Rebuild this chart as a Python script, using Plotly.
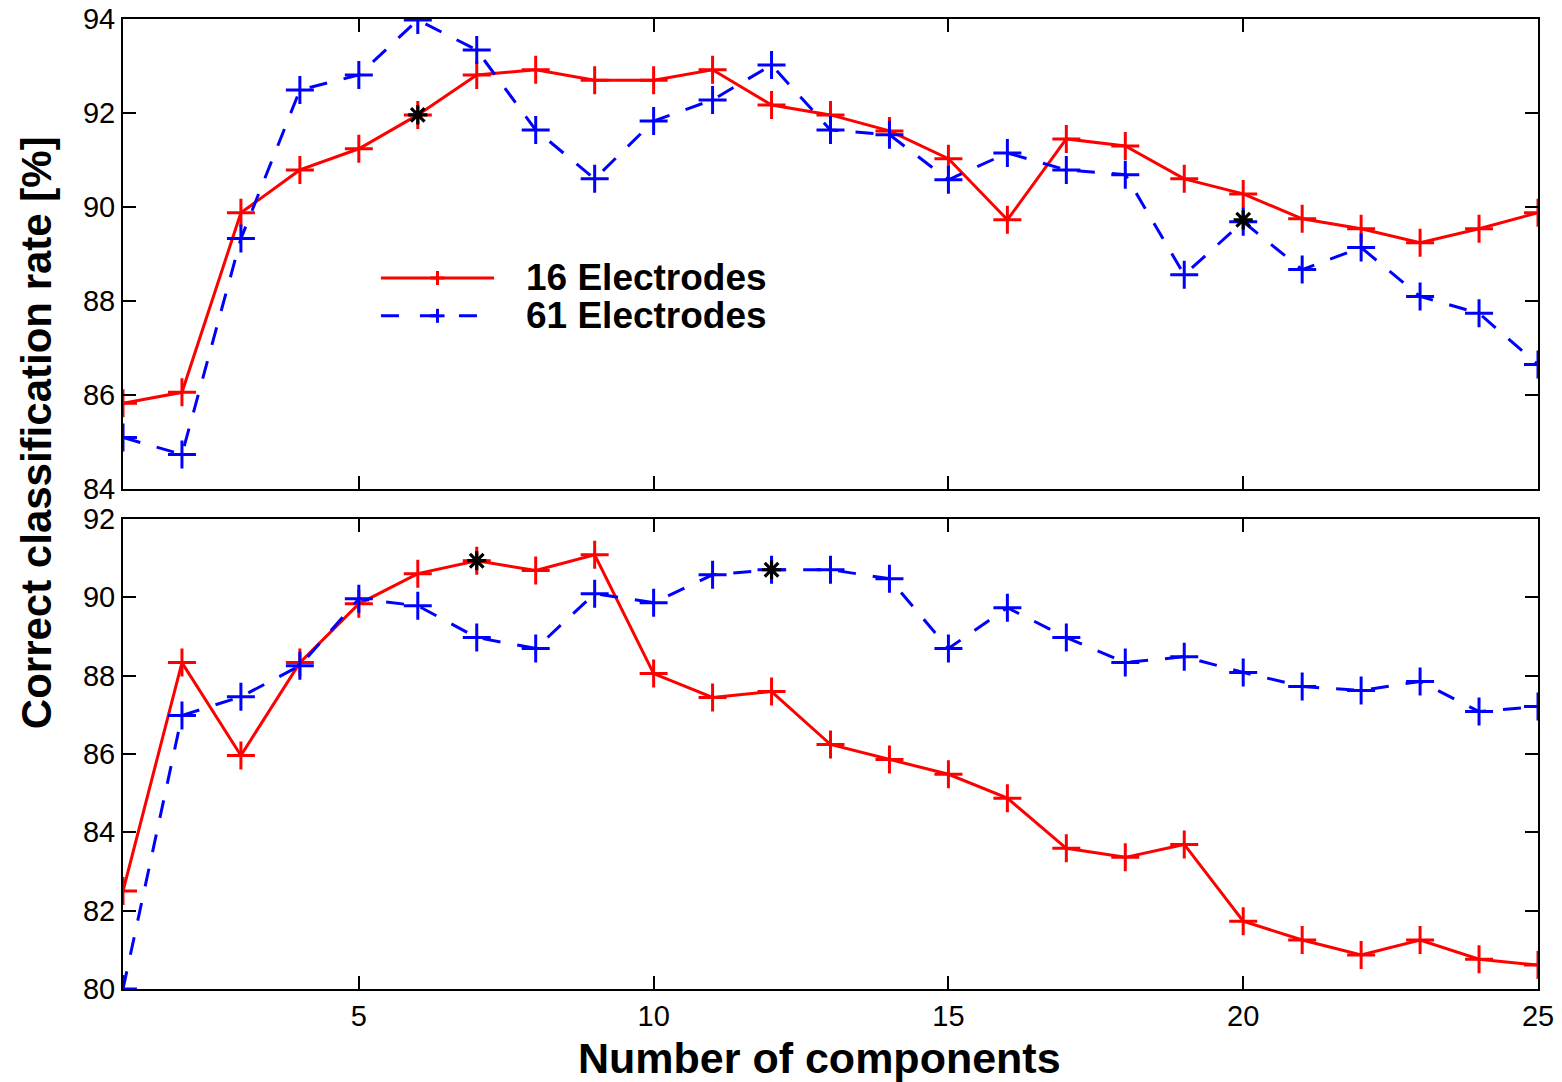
import plotly.graph_objects as go
from plotly.subplots import make_subplots

components = list(range(1, 26))

top_16 = [85.83, 86.06, 89.88, 90.79, 91.24, 91.96, 92.81, 92.92, 92.70, 92.70,
          92.92, 92.17, 91.96, 91.62, 91.03, 89.73, 91.45, 91.30, 90.60, 90.28,
          89.75, 89.54, 89.24, 89.54, 89.88]
top_61 = [85.10, 84.74, 89.33, 92.49, 92.81, 93.98, 93.34, 91.64, 90.60, 91.83,
          92.28, 93.02, 91.64, 91.54, 90.58, 91.15, 90.79, 90.69, 88.56, 89.69,
          88.67, 89.14, 88.10, 87.74, 86.65]
bot_16 = [82.50, 88.33, 85.96, 88.33, 89.83, 90.60, 90.93, 90.68, 91.08, 88.05,
          87.44, 87.59, 86.24, 85.86, 85.48, 84.87, 83.59, 83.36, 83.69, 81.73,
          81.25, 80.87, 81.25, 80.76, 80.61]
bot_61 = [80.00, 86.98, 87.46, 88.25, 89.96, 89.78, 88.97, 88.69, 90.09, 89.86,
          90.57, 90.70, 90.70, 90.47, 88.69, 89.73, 88.97, 88.33, 88.48, 88.08,
          87.72, 87.62, 87.85, 87.08, 87.21]

top_star_x = [6, 20]
top_star_y = [91.96, 89.73]
bot_star_x = [7, 12]
bot_star_y = [90.93, 90.70]

series_names = ["16 Electrodes", "61 Electrodes"]
x_ticks = [5, 10, 15, 20, 25]
top_y_ticks = [84, 86, 88, 90, 92, 94]
bot_y_ticks = [80, 82, 84, 86, 88, 90, 92]

RED = "#FF0000"
BLUE = "#0000FF"
FONT = "Liberation Sans, Arial, Helvetica, sans-serif"
LW = 3

fig = make_subplots(rows=2, cols=1, vertical_spacing=0.0305)


def add_series(row, y16, y61, sx, sy):
    fig.add_trace(go.Scatter(
        x=components, y=y16, mode="lines+markers", name=series_names[0],
        line=dict(color=RED, width=LW),
        marker=dict(symbol="cross-thin-open", size=20, color=RED, line=dict(color=RED, width=LW)),
        showlegend=False), row=row, col=1)
    fig.add_trace(go.Scatter(
        x=components, y=y61, mode="lines+markers", name=series_names[1],
        line=dict(color=BLUE, width=LW, dash="18px,17px"),
        marker=dict(symbol="cross-thin-open", size=20, color=BLUE, line=dict(color=BLUE, width=LW)),
        showlegend=False), row=row, col=1)
    fig.add_trace(go.Scatter(
        x=sx, y=sy, mode="markers",
        marker=dict(symbol="asterisk-open", size=16, color="black",
                    line=dict(color="black", width=3.2)),
        showlegend=False, hoverinfo="skip"), row=row, col=1)


add_series(1, top_16, top_61, top_star_x, top_star_y)
add_series(2, bot_16, bot_61, bot_star_x, bot_star_y)

axis_common = dict(showline=True, linecolor="black", linewidth=2, mirror="ticks",
                   ticks="inside", ticklen=13, tickwidth=1.5, tickcolor="black",
                   showgrid=False, zeroline=False, automargin=False,
                   tickfont=dict(family=FONT, size=29, color="black"))

fig.update_xaxes(range=[1, 25], tickvals=x_ticks, **axis_common)
fig.update_xaxes(showticklabels=False, row=1, col=1)
fig.update_xaxes(ticktext=[str(v) for v in x_ticks], row=2, col=1)
fig.update_yaxes(range=[84, 94], tickvals=top_y_ticks, **axis_common, row=1, col=1)
fig.update_yaxes(range=[80, 92], tickvals=bot_y_ticks, **axis_common, row=2, col=1)

# x-axis title
fig.add_annotation(text="<b>Number of components</b>", xref="paper", yref="paper",
                   x=0.4919, xanchor="center", y=-0.0711, yanchor="middle", showarrow=False,
                   font=dict(family=FONT, size=43, color="black"))

# y-axis title spanning both panels
fig.add_annotation(text="<b>Correct classification rate [%]</b>", xref="paper", yref="paper",
                   x=-0.0615, xanchor="center", y=0.574, textangle=-90, showarrow=False,
                   font=dict(family=FONT, size=42, color="black"))

# legend (drawn manually to match original style)
leg_x0, leg_x1 = 0.1823, 0.2622
leg_y = [0.733, 0.694]
fig.add_shape(type="line", xref="paper", yref="paper", x0=leg_x0, x1=leg_x1,
              y0=leg_y[0], y1=leg_y[0], line=dict(color=RED, width=LW))
fig.add_shape(type="line", xref="paper", yref="paper", x0=leg_x0, x1=leg_x1,
              y0=leg_y[1], y1=leg_y[1], line=dict(color=BLUE, width=LW, dash="18px,21px"))
xm = (leg_x0 + leg_x1) / 2
for yy, col in zip(leg_y, [RED, BLUE]):
    fig.add_shape(type="line", xref="paper", yref="paper", x0=xm - 0.005, x1=xm + 0.005,
                  y0=yy, y1=yy, line=dict(color=col, width=LW))
    fig.add_shape(type="line", xref="paper", yref="paper", x0=xm, x1=xm,
                  y0=yy - 0.0072, y1=yy + 0.0072, line=dict(color=col, width=LW))
for yy, name in zip(leg_y, series_names):
    fig.add_annotation(text="<b>" + name + "</b>", xref="paper", yref="paper",
                       x=0.2834, y=yy, xanchor="left", yanchor="middle", showarrow=False,
                       font=dict(family=FONT, size=37, color="black"))

fig.update_layout(width=1562, height=1082, plot_bgcolor="white", paper_bgcolor="white",
                  margin=dict(l=123, r=24, t=19, b=93, autoexpand=False),
                  font=dict(family=FONT, color="black"))

fig.write_html("out.html", config={"displayModeBar": False},
               post_script="document.body.style.margin='0';")
